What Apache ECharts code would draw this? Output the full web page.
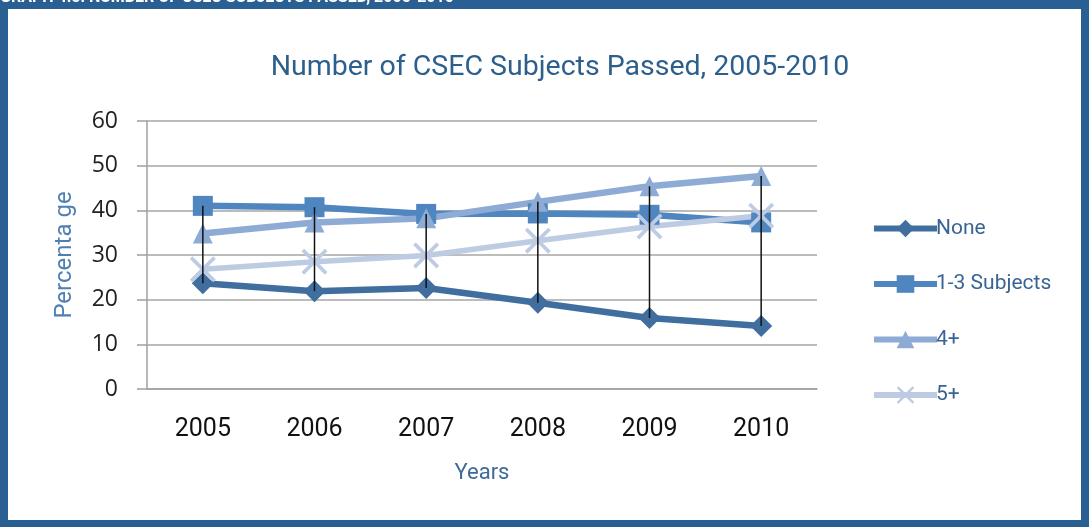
<!DOCTYPE html>
<html><head><meta charset="utf-8">
<script src="https://cdn.jsdelivr.net/npm/echarts@6/dist/echarts.min.js"></script>
<style>html,body{margin:0;padding:0;background:#fff}#c{width:1089px;height:527px}</style>
</head><body><div id="c"></div>
<script>
const years = ['2005','2006','2007','2008','2009','2010'];
const none = [23.7, 21.9, 22.6, 19.3, 15.9, 14.1];
const oneToThree = [41.0, 40.7, 39.2, 39.3, 39.0, 37.3];
const fourPlus = [34.8, 37.3, 38.2, 41.9, 45.4, 47.7];
const fivePlus = [26.8, 28.5, 29.9, 33.2, 36.4, 38.8];
const yTicks = [0, 10, 20, 30, 40, 50, 60];

const chart = echarts.init(document.getElementById('c'));
const narrow = 'Roboto, sans-serif';
const xPath = 'path://M0,1L1,0L5,4L9,0L10,1L6,5L10,9L9,10L5,6L1,10L0,9L4,5Z';
const series = [
  {name:'None', data:none, color:'#3f6e9f', symbol:'diamond', size:22, w:6.5},
  {name:'1-3 Subjects', data:oneToThree, color:'#4f86bf', symbol:'rect', size:20, w:6.5},
  {name:'4+', data:fourPlus, color:'#8eabd5', symbol:'triangle', size:20, w:6.5},
  {name:'5+', data:fivePlus, color:'#bdcbe3', symbol:xPath, size:26, w:5.5}
];
const hiLo = years.map((y, i) => {
  const vals = [none[i], oneToThree[i], fourPlus[i], fivePlus[i]];
  return [i, Math.max(...vals), Math.min(...vals)];
});
chart.setOption({
  animation:false,
  title:{text:'Number of CSEC Subjects Passed, 2005-2010', left:555, textAlign:'center', top:48,
    textStyle:{fontFamily:narrow, fontSize:28.5, fontWeight:'normal', color:'#2d5f8c'}},
  graphic:[
    {type:'rect', shape:{x:0,y:0,width:1089,height:9}, style:{fill:'#2a5f93'}, z:10},
    {type:'rect', shape:{x:0,y:0,width:8,height:527}, style:{fill:'#2a5f93'}, z:10},
    {type:'rect', shape:{x:1081,y:0,width:8,height:527}, style:{fill:'#2a5f93'}, z:10},
    {type:'rect', shape:{x:0,y:520,width:1089,height:7}, style:{fill:'#2a5f93'}, z:10},
    {type:'text', left:0, top:-10, style:{text:'GRAPH 4.5: NUMBER OF CSEC SUBJECTS PASSED, 2005-2010', fill:'#fff', font:'bold 16px ' + narrow}, z:11}
  ],
  grid:{left:147, right:272, top:121, bottom:138, containLabel:false},
  legend:{orient:'vertical', left:866, top:213, itemGap:34.5, itemWidth:63, itemHeight:22,
    data:series.map(s=>s.name),
    lineStyle:{width:6},
    textStyle:{fontFamily:narrow, fontSize:21, color:'#3a6592', padding:[0,0,0,-6]}},
  xAxis:{type:'category', data:years, boundaryGap:true,
    axisLine:{lineStyle:{color:'#a0a0a0', width:1.5}}, axisTick:{show:false},
    axisLabel:{fontFamily:narrow, fontSize:25, color:'#111', margin:28},
    name:'Years', nameLocation:'middle', nameGap:73,
    nameTextStyle:{fontFamily:narrow, fontSize:22, color:'#3f6b99'}},
  yAxis:{type:'value', min:0, max:60, interval:10,
    axisLine:{show:true, lineStyle:{color:'#a0a0a0', width:1.5}},
    axisTick:{show:true, inside:false, length:10, lineStyle:{color:'#a0a0a0', width:1.5}},
    splitLine:{lineStyle:{color:'#a6a6a6', width:1.5}},
    axisLabel:{fontFamily:'"Open Sans", sans-serif', fontSize:23, color:'#222', margin:29,
      formatter:v=>yTicks.includes(v)?String(v):''},
    name:'Percenta ge', nameLocation:'middle', nameGap:70, nameRotate:90,
    nameTextStyle:{fontFamily:narrow, fontSize:24, color:'#4f7fb2'}},
  series: series.map(s=>({
    name:s.name, type:'line', data:s.data, symbol:s.symbol, symbolSize:s.size,
    itemStyle:{color:s.color}, lineStyle:{color:s.color, width:s.w}, z:2
  })).concat([{
    type:'custom', name:'hilo', data:hiLo, z:5, silent:true,
    renderItem:(params, api)=>{
      const a = api.coord([api.value(0), api.value(1)]);
      const b = api.coord([api.value(0), api.value(2)]);
      return {type:'line', shape:{x1:a[0], y1:a[1], x2:b[0], y2:b[1]}, style:{stroke:'#111', lineWidth:1.5}};
    }
  }])
});
</script></body></html>
